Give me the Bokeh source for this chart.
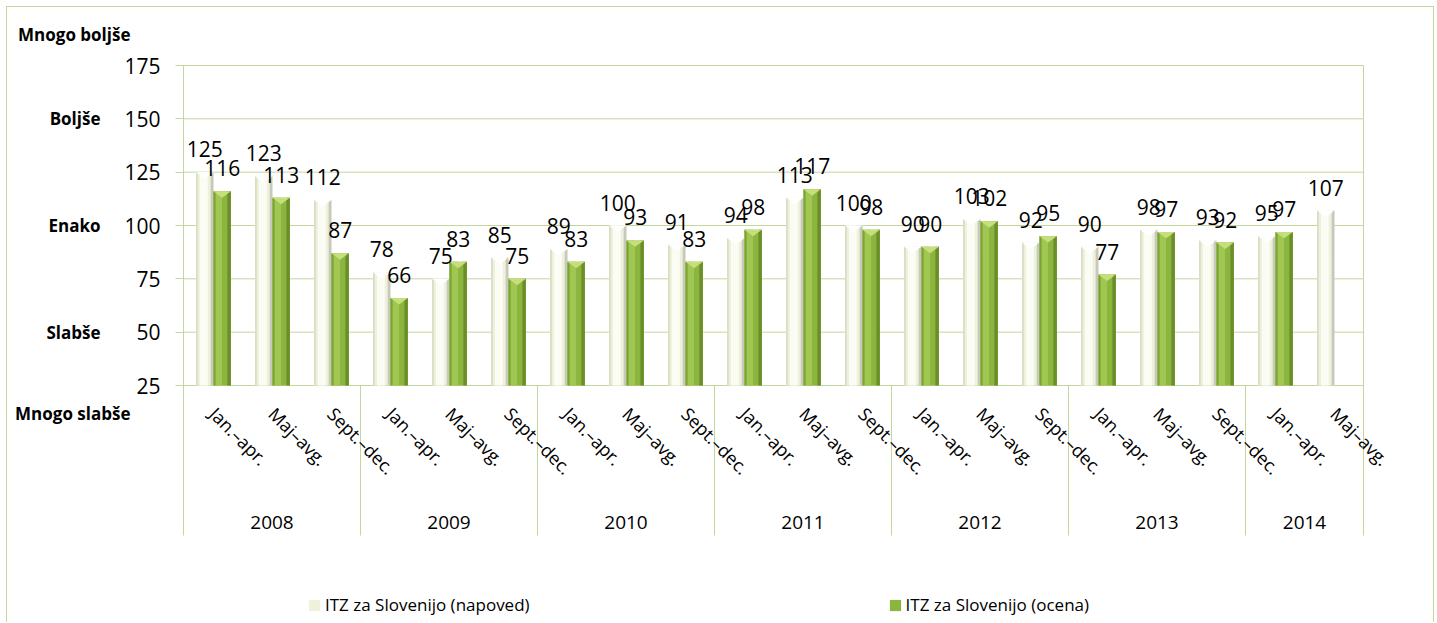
import math
import numpy as np
from bokeh.plotting import figure
from bokeh.models import (Range1d, FixedTicker, LinearAxis, Legend, LegendItem)
from bokeh.core.properties import value
from bokeh.embed import file_html
from bokeh.resources import INLINE

# ---------------- data ----------------
years = ["2008", "2009", "2010", "2011", "2012", "2013", "2014"]
periods_per_year = [3, 3, 3, 3, 3, 3, 2]
period_names = ["Jan.–apr.", "Maj–avg.", "Sept.–dec."]
napoved = [125, 123, 112, 78, 75, 85, 89, 100, 91, 94, 113, 100, 90, 103, 92, 90, 98, 93, 95, 107]
ocena = [116, 113, 87, 66, 83, 75, 83, 93, 83, 98, 117, 98, 90, 102, 95, 77, 97, 92, 97, None]
y_ticks = [25, 50, 75, 100, 125, 150, 175]
scale_labels = ["Mnogo boljše", "Boljše", "Enako", "Slabše", "Mnogo slabše"]
scale_values = [189.5, 150, 100, 50, 12]
series_names = ["ITZ za Slovenijo (napoved)", "ITZ za Slovenijo (ocena)"]

# ---------------- derived ----------------
periods = []
for n in periods_per_year:
    periods += period_names[:n]
N = len(periods)
idx = np.arange(N)
year_starts = np.cumsum([0] + periods_per_year[:-1])
year_centers = year_starts + np.array(periods_per_year) / 2.0

# ---------------- style / layout ----------------
FONT = "Open Sans"
GREEN_LINE = "#c3d69b"
W, H = 1428, 616
FRAME_L = 176          # left edge of the value area
TOP_GAP = 58           # px between canvas top and the 175 line
PX_PER_CAT = 59.0
PX_PER_UNIT = 320.0 / 150.0
frame_w = W - FRAME_L
base = y_ticks[0]
top_val = y_ticks[-1]
y_end = top_val + TOP_GAP / PX_PER_UNIT
y_start = top_val - (H - TOP_GAP) / PX_PER_UNIT
sep_bottom = base - 150.0 / PX_PER_UNIT

BW = 0.295
x_nap = idx + 0.36
x_oc = idx + 0.36 + BW

p = figure(width=W, height=H, x_range=Range1d(0, frame_w / PX_PER_CAT),
           y_range=Range1d(y_start, y_end),
           output_backend="svg", toolbar_location=None, x_axis_location=None,
           y_axis_location="left",
           min_border_left=FRAME_L, min_border_right=0,
           min_border_top=0, min_border_bottom=0,
           outline_line_color=None, background_fill_color="white",
           border_fill_color="white")
p.styles = {"border-left": "1px solid " + GREEN_LINE,
            "border-top": "1px solid " + GREEN_LINE,
            "border-right": "1px solid " + GREEN_LINE,
            "margin-left": "6px", "margin-top": "6px"}

# numeric y axis
ya = p.yaxis[0]
ya.ticker = FixedTicker(ticks=y_ticks)
ya.bounds = (sep_bottom, top_val)
ya.axis_line_color = GREEN_LINE
ya.major_tick_line_color = GREEN_LINE
ya.major_tick_out = 8
ya.major_tick_in = 0
ya.minor_tick_line_color = None
ya.major_label_text_font = FONT
ya.major_label_text_font_size = "21px"
ya.major_label_text_color = "black"
ya.major_label_standoff = 15

# qualitative scale axes (text only)
def scale_axis(which, standoff):
    ticks = [scale_values[i] for i in which]
    ax = LinearAxis(ticker=FixedTicker(ticks=ticks),
                    major_label_overrides={scale_values[i]: scale_labels[i] for i in which},
                    axis_line_color=None, major_tick_line_color=None,
                    minor_tick_line_color=None, major_tick_out=0, major_tick_in=0,
                    minor_tick_out=0, minor_tick_in=0,
                    major_label_standoff=standoff, major_label_text_font=FONT,
                    major_label_text_font_style="bold", major_label_text_font_size="17px",
                    major_label_text_color="black")
    p.add_layout(ax, "left")

mid = [i for i, s in enumerate(scale_labels) if not s.startswith("Mnogo")]
far = [i for i, s in enumerate(scale_labels) if s.startswith("Mnogo")]
scale_axis(mid, 21)
scale_axis(far, -87)

p.xgrid.visible = False
p.ygrid.visible = False

# horizontal gridlines over the category span
p.segment(x0=[0] * len(y_ticks), y0=y_ticks, x1=[N] * len(y_ticks), y1=y_ticks,
          line_color=GREEN_LINE, line_width=1)
# right border line of the plot area
p.segment(x0=[N], y0=[sep_bottom], x1=[N], y1=[top_val], line_color=GREEN_LINE, line_width=1)
# year separators below the value floor
seps = year_starts[1:]
p.segment(x0=seps, y0=sep_bottom, x1=seps, y1=base, line_color=GREEN_LINE, line_width=1)

# ---------------- bars ----------------
oc_idx = [i for i, v in enumerate(ocena) if v is not None]
oc_x = x_oc[oc_idx]
oc_v = [ocena[i] for i in oc_idx]

r_nap = p.vbar(x=x_nap, top=napoved, bottom=base, width=BW, fill_color="#eef2dc", line_color=None)
p.vbar(x=x_nap - BW * 0.05, top=napoved, bottom=base, width=BW * 0.45, fill_color="#fbfcf3", line_color=None)
p.vbar(x=x_nap + BW * 0.42, top=napoved, bottom=base, width=BW * 0.16, fill_color="#c6c9bb", line_color=None)
p.vbar(x=x_nap - BW * 0.45, top=napoved, bottom=base, width=BW * 0.10, fill_color="#d9ddc6", line_color=None)

r_oc = p.vbar(x=oc_x, top=oc_v, bottom=base, width=BW, fill_color="#8cb540", line_color=None)
p.vbar(x=oc_x - BW * 0.18, top=oc_v, bottom=base, width=BW * 0.35, fill_color="#a0c752", line_color=None)
p.vbar(x=oc_x + BW * 0.40, top=oc_v, bottom=base, width=BW * 0.20, fill_color="#6b8f28", line_color=None)
p.vbar(x=oc_x - BW * 0.45, top=oc_v, bottom=base, width=BW * 0.10, fill_color="#7da334", line_color=None)

CAP = 3.0
def caps(xs, vs):
    xsl, ysl = [], []
    for x, v in zip(xs, vs):
        xsl.append([x - BW / 2, x + BW / 2, x])
        ysl.append([v, v, v - CAP])
    return xsl, ysl

cx, cy = caps(x_nap, napoved)
p.patches(xs=cx, ys=cy, fill_color="#ffffff", line_color=None)
cx, cy = caps(oc_x, oc_v)
p.patches(xs=cx, ys=cy, fill_color="#c5df7c", line_color=None)

# ---------------- data labels ----------------
p.text(x=x_nap, y=napoved, text=[str(v) for v in napoved], text_align="center",
       text_baseline="alphabetic", y_offset=-23, text_font=value(FONT),
       text_font_size="21px", text_color="black")
p.text(x=oc_x, y=oc_v, text=[str(v) for v in oc_v], text_align="center",
       text_baseline="alphabetic", y_offset=-23, text_font=value(FONT),
       text_font_size="21px", text_color="black")

# ---------------- category labels ----------------
p.text(x=idx + 0.5, y=base - 11.7, text=periods, angle=-math.pi / 4,
       text_align="left", text_baseline="middle", text_font=value(FONT),
       text_font_size="18px", text_color="black")
p.text(x=year_centers, y=base - 64.2, text=years, text_align="center",
       text_baseline="middle", text_font=value(FONT), text_font_size="19px",
       text_color="black")

# ---------------- legend ----------------
legend = Legend(items=[LegendItem(label=series_names[0], renderers=[r_nap]),
                       LegendItem(label=series_names[1], renderers=[r_oc])],
                location=(124, 7), orientation="horizontal", spacing=358,
                padding=0, margin=0, glyph_width=14, glyph_height=14,
                label_standoff=4, label_text_font=FONT, label_text_font_size="17px",
                label_text_color="black", border_line_color=None,
                background_fill_alpha=0)
p.add_layout(legend)

open("out.html", "w").write(file_html(p, INLINE))
